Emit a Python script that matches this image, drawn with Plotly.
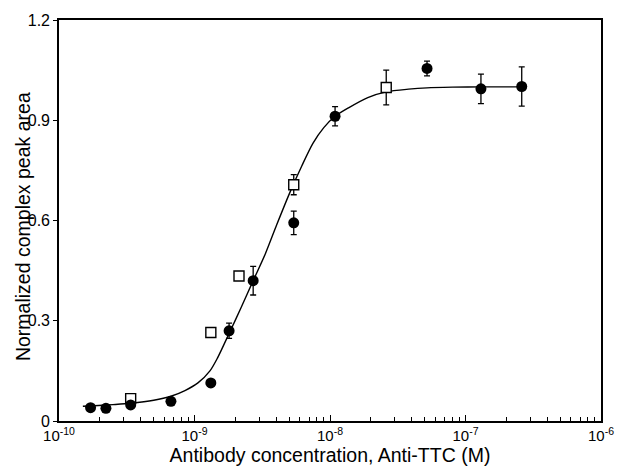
import plotly.graph_objects as go

# Filled circles (mean +/- error)
circ_x = [1.71e-10, 2.22e-10, 3.38e-10, 6.7e-10, 1.32e-9, 1.8e-9, 2.71e-9, 5.4e-9, 1.09e-8, 5.2e-8, 1.3e-7, 2.6e-7]
circ_y = [0.040, 0.038, 0.048, 0.059, 0.114, 0.270, 0.420, 0.593, 0.912, 1.055, 0.994, 1.001]
circ_err = [0.0, 0.0, 0.0, 0.0, 0.0, 0.023, 0.043, 0.035, 0.029, 0.022, 0.044, 0.059]

# Open squares
sq_x = [3.38e-10, 1.32e-9, 2.13e-9, 5.4e-9, 2.6e-8]
sq_y = [0.067, 0.265, 0.434, 0.707, 0.998]
sq_err = [0.0, 0.0, 0.0, 0.030, 0.052]

# Fitted curve
fit_x = [1.5e-10, 1.71e-10, 2.5e-10, 3.38e-10, 5.0e-10, 6.7e-10, 8.5e-10, 1.06e-9, 1.3e-9, 1.48e-9, 1.8e-9,
         2.2e-9, 2.71e-9, 3.33e-9, 4.05e-9, 5.07e-9, 6.2e-9, 7.48e-9, 9.0e-9, 1.09e-8, 1.38e-8,
         1.9e-8, 2.6e-8, 3.8e-8, 5.2e-8, 8.0e-8, 1.3e-7, 2.6e-7]
fit_y = [0.044, 0.045, 0.049, 0.053, 0.062, 0.074, 0.091, 0.114, 0.150, 0.189, 0.262,
         0.338, 0.420, 0.500, 0.588, 0.685, 0.764, 0.831, 0.878, 0.912, 0.938,
         0.968, 0.985, 0.993, 0.997, 0.999, 1.000, 1.000]

x_tickvals = [1e-10, 1e-9, 1e-8, 1e-7, 1e-6]
x_ticktext = ["10<sup>-10</sup>", "10<sup>-9</sup>", "10<sup>-8</sup>", "10<sup>-7</sup>", "10<sup>-6</sup>"]
y_tickvals = [0, 0.3, 0.6, 0.9, 1.2]
y_ticktext = ["0", "0.3", "0.6", "0.9", "1.2"]

FONT = "Liberation Sans, Arial, sans-serif"

fig = go.Figure()

fig.add_trace(go.Scatter(
    x=fit_x, y=fit_y, mode="lines", line=dict(color="black", width=1.4, shape="spline", smoothing=0.8),
    hoverinfo="skip", showlegend=False))

fig.add_trace(go.Scatter(
    x=sq_x, y=sq_y, mode="markers",
    marker=dict(symbol="square", size=10, color="white", line=dict(color="black", width=1.4)),
    error_y=dict(type="data", array=sq_err, color="black", thickness=1.3, width=3),
    showlegend=False))

fig.add_trace(go.Scatter(
    x=circ_x, y=circ_y, mode="markers",
    marker=dict(symbol="circle", size=11, color="black", line=dict(color="black", width=0)),
    error_y=dict(type="data", array=circ_err, color="black", thickness=1.3, width=3),
    showlegend=False))

fig.update_layout(
    width=626, height=470,
    margin=dict(l=59, r=17, t=17, b=42),
    paper_bgcolor="white", plot_bgcolor="white",
    font=dict(family=FONT, color="black", size=15),
    xaxis=dict(
        type="log", range=[-10, -6],
        tickvals=x_tickvals, ticktext=x_ticktext,
        ticks="inside", ticklen=6, tickwidth=1.3, tickcolor="black",
        minor=dict(ticks="inside", ticklen=4, tickwidth=1, tickcolor="black", dtick="D1"),
        showgrid=False, zeroline=False,
        showline=True, linecolor="black", linewidth=1.6, mirror=True,
        tickfont=dict(size=15),
        title=dict(text="Antibody concentration, Anti-TTC (M)", font=dict(size=19.5), standoff=1),
    ),
    yaxis=dict(
        range=[0, 1.2],
        tickvals=y_tickvals, ticktext=y_ticktext,
        ticks="outside", ticklen=4, tickwidth=1.3, tickcolor="black",
        showgrid=False, zeroline=False,
        showline=True, linecolor="black", linewidth=1.6, mirror=True,
        tickfont=dict(size=16),
    ),
    annotations=[dict(
        text="Normalized complex peak area", textangle=-90,
        xref="paper", yref="paper", x=(22 - 59) / 550, y=0.485,
        xanchor="center", yanchor="middle", showarrow=False,
        font=dict(size=19.5, family=FONT, color="black"),
    )],
)

fig.write_html("out.html")
